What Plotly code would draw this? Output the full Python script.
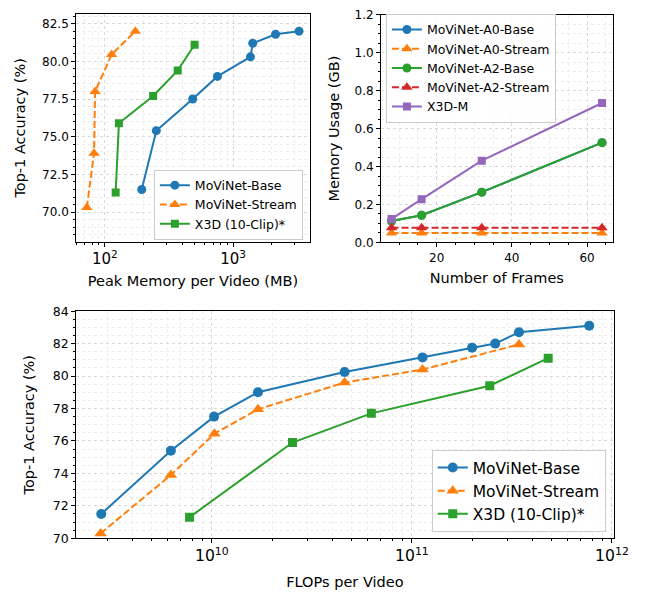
import plotly.graph_objects as go

# ---------------- data ----------------
# Top-left: accuracy vs peak memory (MB)
mem_base = [194, 252, 484, 755, 1365, 1422, 2143, 3265]
acc_mem_base = [71.5, 75.4, 77.5, 79.0, 80.3, 81.2, 81.8, 82.0]
mem_stream = [72.4, 82.4, 84, 113, 173]
acc_mem_stream = [70.3, 73.9, 78.0, 80.45, 82.0]
mem_x3d = [121.5, 128.8, 238, 370, 501]
acc_mem_x3d = [71.3, 75.9, 77.7, 79.4, 81.1]

# Top-right: memory usage (GB) vs number of frames
frames = [8, 16, 32, 64]
a0_base = [0.113, 0.143, 0.265, 0.526]
a0_stream = [0.050, 0.050, 0.050, 0.050]
a2_base = [0.113, 0.143, 0.265, 0.526]
a2_stream = [0.078, 0.078, 0.078, 0.078]
x3d_m = [0.124, 0.228, 0.431, 0.735]

# Bottom: accuracy vs FLOPs
flops_base = [2.8e9, 6.24e9, 1.026e10, 1.70e10, 4.61e10, 1.13e11, 2.0e11, 2.61e11, 3.43e11, 7.7e11]
acc_flops_base = [71.5, 75.4, 77.5, 79.0, 80.25, 81.15, 81.75, 82.0, 82.7, 83.1]
flops_stream = [2.78e9, 6.24e9, 1.03e10, 1.70e10, 4.61e10, 1.13e11, 3.43e11]
acc_flops_stream = [70.3, 73.9, 76.45, 77.95, 79.6, 80.4, 81.95]
flops_x3d = [7.74e9, 2.53e10, 6.27e10, 2.45e11, 4.8e11]
acc_flops_x3d = [71.3, 75.9, 77.7, 79.4, 81.1]

BLUE, ORANGE, GREEN, RED, PURPLE = "#1f77b4", "#ff7f0e", "#2ca02c", "#d62728", "#9467bd"
FONT = "DejaVu Sans"
DASH = "7px,3px"

fig = go.Figure()

def add(x, y, name, color, symbol, dash, xa, ya, legend, size=9):
    fig.add_trace(go.Scatter(
        x=x, y=y, name=name, mode="lines+markers",
        line=dict(color=color, width=2, dash=dash),
        marker=dict(color=color, symbol=symbol, size=size),
        xaxis=xa, yaxis=ya, legend=legend,
    ))

# top-left
add(mem_base, acc_mem_base, "MoViNet-Base", BLUE, "circle", "solid", "x", "y", "legend")
add(mem_stream, acc_mem_stream, "MoViNet-Stream", ORANGE, "triangle-up", DASH, "x", "y", "legend", 10)
add(mem_x3d, acc_mem_x3d, "X3D (10-Clip)*", GREEN, "square", "solid", "x", "y", "legend", 8)

# top-right
add(frames, a0_base, "MoViNet-A0-Base", BLUE, "circle", "solid", "x2", "y2", "legend2")
add(frames, a0_stream, "MoViNet-A0-Stream", ORANGE, "triangle-up", DASH, "x2", "y2", "legend2", 10)
add(frames, a2_base, "MoViNet-A2-Base", GREEN, "circle", "solid", "x2", "y2", "legend2")
add(frames, a2_stream, "MoViNet-A2-Stream", RED, "triangle-up", DASH, "x2", "y2", "legend2", 10)
add(frames, x3d_m, "X3D-M", PURPLE, "square", "solid", "x2", "y2", "legend2", 8)

# bottom
add(flops_base, acc_flops_base, "MoViNet-Base", BLUE, "circle", "solid", "x3", "y3", "legend3", 10)
add(flops_stream, acc_flops_stream, "MoViNet-Stream", ORANGE, "triangle-up", DASH, "x3", "y3", "legend3", 11)
add(flops_x3d, acc_flops_x3d, "X3D (10-Clip)*", GREEN, "square", "solid", "x3", "y3", "legend3", 9)

W, H = 652, 594
def px(a, b):
    return [a / W, b / W]
def py(top, bottom):
    return [1 - bottom / H, 1 - top / H]
def lx(v):
    return v / W
def ly(v):
    return 1 - v / H

grid = dict(showgrid=True, gridcolor="#d9d9d9", gridwidth=0.8, griddash="dot")
mgrid = dict(showgrid=True, gridcolor="#ececec", gridwidth=0.6, griddash="dot")
common = dict(showline=True, linecolor="black", linewidth=1, mirror=True,
              ticks="outside", ticklen=4, tickwidth=1, tickcolor="black",
              zeroline=False, **grid)
tickfont = dict(family=FONT, size=12, color="black")
tickfont3 = dict(family=FONT, size=12.5, color="black")
titlefont = dict(family=FONT, size=14.5, color="black")

def minor(dt):
    return dict(ticks="outside", ticklen=2, tickcolor="black", dtick=dt, **mgrid)

fig.update_layout(
    width=W, height=H, margin=dict(l=0, r=0, t=0, b=0),
    paper_bgcolor="white", plot_bgcolor="white",
    font=dict(family=FONT, color="black"),
    xaxis=dict(domain=px(78, 317), type="log", range=[1.777, 3.597], dtick=1,
               exponentformat="power", tickfont=tickfont, anchor="y",
               minor=minor("D1"),
               title=dict(text="Peak Memory per Video (MB)", font=titlefont, standoff=8), **common),
    yaxis=dict(domain=py(6, 240), range=[68.02, 83.15], dtick=2.5, tick0=70, tickformat=".1f",
               tickfont=tickfont, anchor="x", minor=minor(0.5),
               title=dict(text="Top-1 Accuracy (%)", font=titlefont, standoff=13), **common),
    xaxis2=dict(domain=px(390, 627), range=[5.2, 66.8], dtick=20, tick0=0,
                tickfont=tickfont, anchor="y2", minor=minor(5),
                title=dict(text="Number of Frames", font=titlefont, standoff=9), **common),
    yaxis2=dict(domain=py(7, 240.5), range=[0, 1.2], dtick=0.2, tick0=0, tickformat=".1f",
                tickfont=tickfont, anchor="x2", minor=minor(0.05),
                title=dict(text="Memory Usage (GB)", font=titlefont, standoff=11), **common),
    xaxis3=dict(domain=px(78, 628), type="log", range=[9.322, 12.008], dtick=1,
                exponentformat="power", tickfont=tickfont3, anchor="y3",
                minor=minor("D1"),
                title=dict(text="FLOPs per Video", font=titlefont, standoff=12), **common),
    yaxis3=dict(domain=py(311, 544), range=[70, 84], dtick=2, tick0=70,
                tickfont=tickfont3, anchor="x3", minor=minor(0.5),
                title=dict(text="Top-1 Accuracy (%)", font=titlefont, standoff=14), **common),
    legend=dict(x=lx(310), y=ly(237.5), xanchor="right", yanchor="bottom",
                bgcolor="rgba(255,255,255,0.85)", bordercolor="#cccccc", borderwidth=1,
                font=dict(family=FONT, size=12.5, color="black"), tracegroupgap=0),
    legend2=dict(x=lx(395), y=ly(6), xanchor="left", yanchor="top",
                 bgcolor="rgba(255,255,255,0.85)", bordercolor="#cccccc", borderwidth=1,
                 font=dict(family=FONT, size=12.5, color="black"), tracegroupgap=0),
    legend3=dict(x=lx(620), y=ly(537.5), xanchor="right", yanchor="bottom",
                 bgcolor="rgba(255,255,255,0.85)", bordercolor="#cccccc", borderwidth=1,
                 font=dict(family=FONT, size=15.5, color="black"), tracegroupgap=0),
)

fig.write_html("out.html", config={"displayModeBar": False},
               post_script="document.body.style.margin='0';")
